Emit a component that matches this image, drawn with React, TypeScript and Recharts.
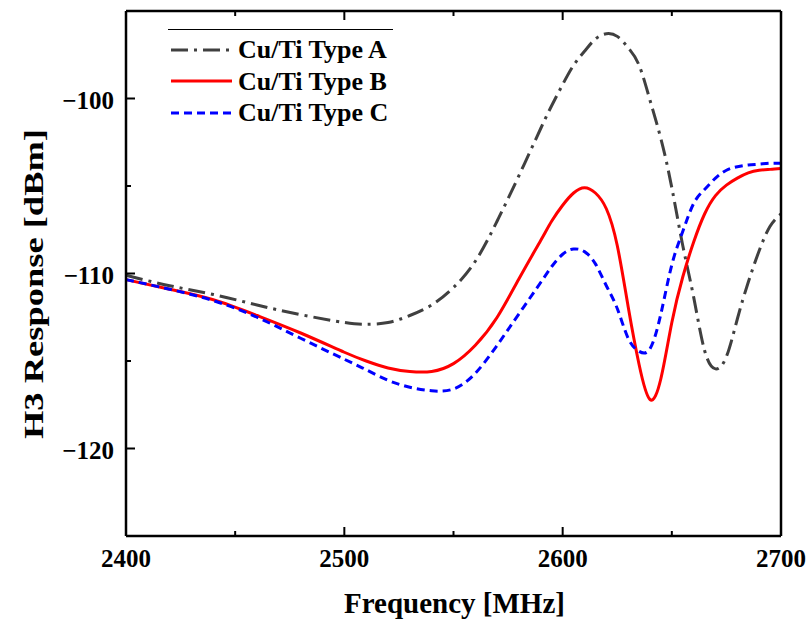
import React from 'react';
import { LineChart, Line, XAxis, YAxis, Label } from 'recharts';

// frequency grid (MHz) and H3 response readings (dBm) per sample type
const freqs = [
  2400, 2420, 2440, 2460, 2480, 2500, 2510, 2520, 2530, 2540, 2550, 2560, 2570,
  2580, 2590, 2595, 2600, 2605, 2610, 2615, 2620, 2625, 2630, 2635, 2640, 2645,
  2650, 2655, 2660, 2665, 2670, 2675, 2680, 2685, 2690, 2695, 2700,
];
const typeA = [
  -110.1, -110.7, -111.2, -111.8, -112.35, -112.8, -112.9, -112.8, -112.4, -111.8, -110.8, -109.3, -107.0,
  -104.4, -101.7, -100.4, -99.2, -98.1, -97.3, -96.6, -96.3, -96.45, -97.1, -98.1, -100.1, -102.3,
  -105.1, -108.4, -111.35, -114.4, -115.45, -114.75, -112.6, -110.5, -108.7, -107.3, -106.6,
];
const typeB = [
  -110.35, -110.9, -111.5, -112.4, -113.4, -114.5, -115.0, -115.4, -115.6, -115.6, -115.15, -114.1, -112.5,
  -110.3, -108.1, -107.0, -106.1, -105.4, -105.1, -105.4, -106.3, -108.4, -111.9, -115.2, -117.2, -116.0,
  -112.8, -110.2, -108.2, -106.6, -105.55, -104.95, -104.55, -104.25, -104.1, -104.05, -104.0,
];
const typeC = [
  -110.35, -110.9, -111.55, -112.5, -113.7, -114.9, -115.5, -116.1, -116.5, -116.7, -116.6, -115.7, -114.1,
  -112.3, -110.5, -109.6, -108.9, -108.6, -108.75, -109.45, -110.7, -112.0, -113.7, -114.45, -114.3, -112.3,
  -109.5, -107.6, -106.0, -105.2, -104.55, -104.1, -103.9, -103.8, -103.75, -103.7, -103.7,
];

const xTicks = [2400, 2450, 2500, 2550, 2600, 2650, 2700];
const xLabels = [2400, 2500, 2600, 2700];
const yTicks = [-125, -120, -115, -110, -105, -100, -95];
const yLabels = [-120, -110, -100];

const series = [
  { key: 'a', name: 'Cu/Ti Type A', color: '#404040', dash: '17 6 3 6' },
  { key: 'b', name: 'Cu/Ti Type B', color: '#ff0000', dash: undefined },
  { key: 'c', name: 'Cu/Ti Type C', color: '#0000ff', dash: '8 5' },
];

const data = freqs.map((f, i) => ({ f, a: typeA[i], b: typeB[i], c: typeC[i] }));

const FONT = '"Liberation Serif", "Times New Roman", serif';

const fmt = (v: number) => (v < 0 ? '\u2212' + Math.abs(v) : String(v));

// inward ticks on all four sides, labels only on major ticks of bottom/left
const FrameTick = (props: any) => {
  const { x, y, payload, side } = props;
  const v = payload.value;
  const labels = side === 'bottom' || side === 'top' ? xLabels : yLabels;
  const major = labels.includes(v);
  const len = major ? 9 : 5;
  let x2 = x;
  let y2 = y;
  if (side === 'bottom') y2 = y - len;
  if (side === 'top') y2 = y + len;
  if (side === 'left') x2 = x + len;
  if (side === 'right') x2 = x - len;
  return (
    <g>
      <line x1={x} y1={y} x2={x2} y2={y2} stroke="#000" strokeWidth={2} />
      {major && side === 'bottom' && (
        <text x={x} y={y + 31} textAnchor="middle" fontFamily={FONT} fontWeight="bold" fontSize={25} fill="#000">
          {fmt(v)}
        </text>
      )}
      {major && side === 'left' && (
        <text x={x - 12} y={y + 10} textAnchor="end" fontFamily={FONT} fontWeight="bold" fontSize={25} fill="#000">
          {fmt(v)}
        </text>
      )}
    </g>
  );
};

const XTitle = (props: any) => {
  const vb = props.viewBox;
  return (
    <text x={vb.x + vb.width / 2 + 1} y={vb.y + 77} textAnchor="middle" fontFamily={FONT} fontWeight="bold" fontSize={29} fill="#000">
      Frequency [MHz]
    </text>
  );
};

const YTitle = () => (
  <text
    x={33}
    y={284}
    transform="rotate(-90, 33, 284)"
    textAnchor="middle"
    dominantBaseline="central"
    textLength={310}
    lengthAdjust="spacingAndGlyphs"
    fontFamily={FONT}
    fontWeight="bold"
    fontSize={28}
    fill="#000"
  >
    H3 Response [dBm]
  </text>
);

const axisLine = { stroke: '#000', strokeWidth: 2.5 };

export default function App() {
  return (
    <div style={{ position: 'absolute', left: 0, top: 0, width: 810, height: 621, background: '#fff' }}>
      <LineChart width={810} height={621} data={data} margin={{ top: 10, right: 28, left: 0, bottom: 0 }}>
        <XAxis
          xAxisId="x"
          dataKey="f"
          type="number"
          domain={[2400, 2700]}
          ticks={xTicks}
          interval={0}
          height={85}
          tickSize={0}
          tickMargin={0}
          axisLine={axisLine}
          tickLine={false}
          tick={(p: any) => <FrameTick {...p} side="bottom" />}
        >
          <Label content={XTitle} />
        </XAxis>
        <XAxis
          xAxisId="top"
          dataKey="f"
          type="number"
          orientation="top"
          domain={[2400, 2700]}
          ticks={xTicks}
          interval={0}
          height={1}
          tickSize={0}
          tickMargin={0}
          axisLine={axisLine}
          tickLine={false}
          tick={(p: any) => <FrameTick {...p} side="top" />}
        />
        <YAxis
          yAxisId="y"
          type="number"
          domain={[-125, -95]}
          ticks={yTicks}
          interval={0}
          width={126}
          tickSize={0}
          tickMargin={0}
          axisLine={axisLine}
          tickLine={false}
          tick={(p: any) => <FrameTick {...p} side="left" />}
        >
          <Label content={YTitle} />
        </YAxis>
        <YAxis
          yAxisId="right"
          type="number"
          orientation="right"
          domain={[-125, -95]}
          ticks={yTicks}
          interval={0}
          width={1}
          tickSize={0}
          tickMargin={0}
          axisLine={axisLine}
          tickLine={false}
          tick={(p: any) => <FrameTick {...p} side="right" />}
        />
        {series.map(s => (
          <Line
            key={s.key}
            xAxisId="x"
            yAxisId="y"
            dataKey={s.key}
            name={s.name}
            type="natural"
            stroke={s.color}
            strokeWidth={3}
            strokeDasharray={s.dash}
            dot={false}
            isAnimationActive={false}
          />
        ))}
      </LineChart>
      <div style={{ position: 'absolute', left: 168, top: 29, width: 225, borderTop: '1px solid #000' }} />
      <div style={{ position: 'absolute', left: 168, top: 34, fontFamily: FONT, fontWeight: 'bold', fontSize: 26, color: '#000' }}>
        {series.map(s => (
          <div key={s.key} style={{ display: 'flex', alignItems: 'center', height: 31.5 }}>
            <svg width={66} height={10} style={{ marginRight: 4 }}>
              <line x1={3} y1={5} x2={64} y2={5} stroke={s.color} strokeWidth={3} strokeDasharray={s.dash} />
            </svg>
            <span style={{ lineHeight: '31px' }}>{s.name}</span>
          </div>
        ))}
      </div>
    </div>
  );
}
